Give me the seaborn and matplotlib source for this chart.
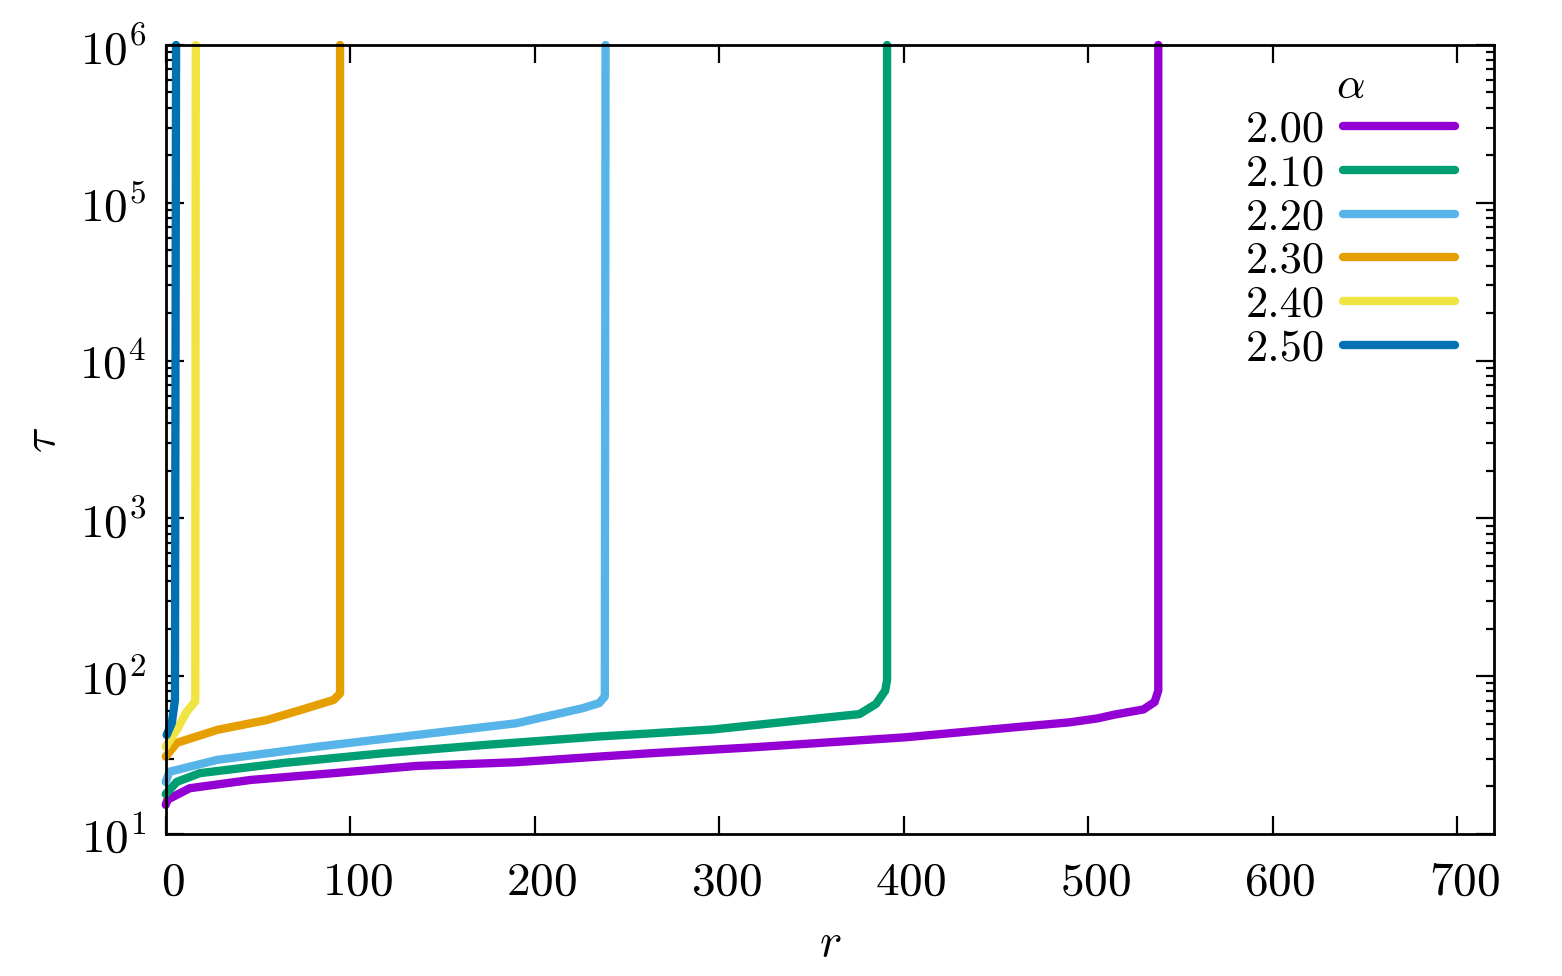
import pandas as pd
import matplotlib
matplotlib.use('Agg')
import matplotlib.pyplot as plt
import matplotlib.ticker as mticker
import matplotlib.transforms as mtransforms
import seaborn as sns

# values (r, tau) for each alpha
alphas = ['2.00', '2.10', '2.20', '2.30', '2.40', '2.50']

r_200 = [0, 1, 6, 13, 46, 91, 136, 190, 236, 263, 318, 401, 464, 490, 505, 514, 530, 536, 538, 538]
tau_200 = [15.3, 16.5, 17.7, 19.5, 22, 24.3, 27, 28.5, 31, 32.5, 35.4, 41, 47.9, 51, 54, 57, 61.6, 68.6, 81, 1e6]

r_210 = [0, 6, 18.6, 64, 118, 172, 235, 263, 297, 360, 376, 385, 390, 391, 391]
tau_210 = [17.9, 21.4, 24.3, 28.2, 32.5, 36.6, 41.5, 43.4, 46, 55, 57.5, 66.7, 81, 95, 1e6]

r_220 = [0, 2, 28, 82, 136, 190, 226, 235, 238, 238.4]
tau_220 = [21.4, 24.8, 29.5, 35.7, 42.4, 50.3, 62.7, 67.6, 74.3, 1e6]

r_230 = [0, 6, 28, 55, 73, 91, 94.5, 94.5]
tau_230 = [30.9, 37.8, 45.7, 52.8, 61, 70.7, 77.8, 1e6]

r_240 = [0, 6, 11.4, 16, 16.3]
tau_240 = [35.7, 45.7, 59.6, 69, 1e6]

r_250 = [0.5, 3.3, 5, 5.6]
tau_250 = [42.4, 50.5, 70.6, 1e6]

colors = ['#9400D3', '#009E73', '#56B4E9', '#E69F00', '#F0E442', '#0072B2']

series = [(r_200, tau_200), (r_210, tau_210), (r_220, tau_220),
          (r_230, tau_230), (r_240, tau_240), (r_250, tau_250)]

frames = []
for a, (rr, tt) in zip(alphas, series):
    frames.append(pd.DataFrame({'r': rr, 'tau': tt, 'alpha': a}))
df = pd.concat(frames, ignore_index=True)

sns.set_style('ticks')
plt.rcParams['font.family'] = 'serif'
plt.rcParams['font.serif'] = ['cmr10']
plt.rcParams['mathtext.fontset'] = 'cm'
plt.rcParams['axes.formatter.use_mathtext'] = True
plt.rcParams['font.size'] = 34
for k in ['text.color', 'axes.labelcolor', 'xtick.color', 'ytick.color', 'axes.edgecolor']:
    plt.rcParams[k] = 'black'

fs = 34
leg_fs = 32
lw = 6

fig = plt.figure(figsize=(15.62, 9.76), dpi=100)
ax = fig.add_axes([0.1061, 0.1455, 0.9565 - 0.1061, 0.9539 - 0.1455])

sns.lineplot(data=df, x='r', y='tau', hue='alpha', hue_order=alphas,
             palette=dict(zip(alphas, colors)), units='alpha', estimator=None,
             sort=False, lw=lw, solid_capstyle='round', ax=ax)
for ln in ax.get_lines():
    ln.set_clip_on(False)

ax.set_yscale('log')
ax.set_xlim(0, 720)
ax.set_ylim(10, 1e6)
ax.set_xticks(range(0, 701, 100))
ax.yaxis.set_major_locator(mticker.LogLocator(base=10, numticks=10))
ax.yaxis.set_minor_locator(mticker.LogLocator(base=10, subs=range(2, 10), numticks=20))
ax.yaxis.set_minor_formatter(mticker.NullFormatter())

for s in ax.spines.values():
    s.set_linewidth(2)
    s.set_color('black')
ax.tick_params(which='major', direction='in', length=13, width=1.6,
               top=True, right=True, labelsize=fs)
ax.tick_params(axis='x', which='major', pad=20)
ax.tick_params(axis='y', which='major', pad=14)
ax.tick_params(which='minor', direction='in', length=6, width=1.6, left=True, right=True)
ax.tick_params(axis='x', which='minor', bottom=False, top=False)

# gnuplot puts the x tick labels a little to the right
shift = mtransforms.ScaledTranslation(5 / 72, 0, fig.dpi_scale_trans)
for lab in ax.get_xticklabels():
    lab.set_transform(lab.get_transform() + shift)

ax.set_xlabel('$r$', fontsize=fs, labelpad=14)
ax.set_ylabel(r'$\tau$', fontsize=fs, labelpad=11)

leg = ax.legend(title=r'$\alpha$', loc='upper right', bbox_to_anchor=(0.9707, 0.972),
                frameon=False, markerfirst=False, fontsize=leg_fs, title_fontsize=leg_fs,
                handlelength=2.52, handletextpad=0.4, labelspacing=0.08,
                borderpad=0, borderaxespad=0)
for h in leg.get_lines():
    h.set_linewidth(lw)
    h.set_solid_capstyle('round')

plt.savefig('out.png', dpi=100)
